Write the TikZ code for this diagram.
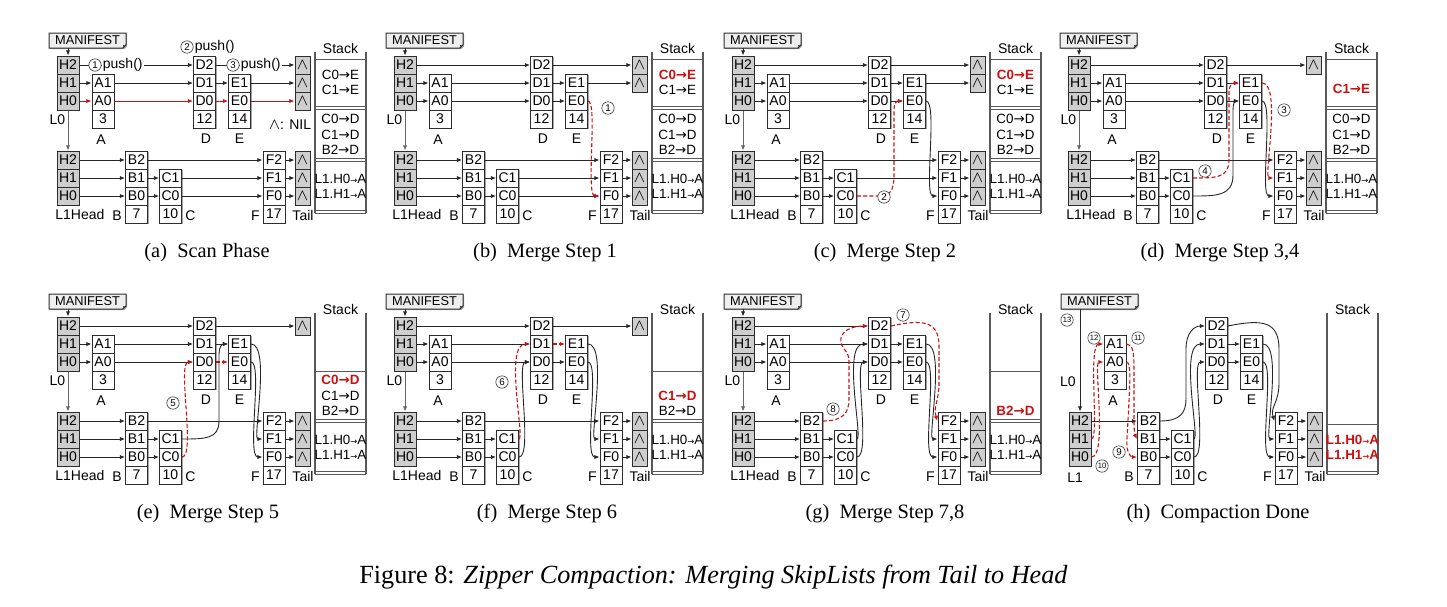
\documentclass[tikz,border=0pt]{standalone}
\usepackage{fontspec}
\setmainfont{Liberation Serif}
\newfontfamily\diagfont{Liberation Sans}
\newfontfamily\symf{DejaVu Sans}
\usetikzlibrary{arrows.meta,positioning,shadows}
\definecolor{zipred}{RGB}{204,16,16}
\definecolor{headgray}{RGB}{206,206,206}
\definecolor{mangray}{RGB}{238,238,238}
\definecolor{celldraw}{RGB}{45,45,45}
\newcommand{\cellfont}{\diagfont\fontsize{7}{8}\selectfont}
\newcommand{\manfont}{\diagfont\fontsize{6.4}{7}\selectfont}
\newcommand{\stackfont}{\diagfont\fontsize{6.7}{7.5}\selectfont}
\newcommand{\stepfont}{\diagfont\fontsize{4.9}{4.9}\selectfont}
\newcommand{\stepfontsm}{\diagfont\fontsize{3.8}{3.8}\selectfont}
\newcommand{\zar}{{\symf →}}
\newcommand{\zsar}{{\symf\fontsize{4.2}{4.2}\selectfont →}}
\newcommand{\nilmark}{{\fontsize{8}{8}\selectfont$\wedge$}}
\tikzset{
  cell/.style={draw=celldraw,line width=0.5pt,fill=white,minimum width=11pt,
    minimum height=9pt,inner sep=0pt,font=\cellfont,
    drop shadow={shadow xshift=0.6pt,shadow yshift=-0.6pt,fill=black!50,opacity=0.7}},
  headcell/.style={cell,fill=headgray},
  nilbox/.style={headcell,minimum width=7.5pt},
  manbox/.style={draw=celldraw,line width=0.5pt,fill=mangray,
    drop shadow={shadow xshift=0.6pt,shadow yshift=-0.6pt,fill=black!50,opacity=0.7}},
  link/.style={-{Latex[length=2.6pt,width=2.2pt]},line width=0.45pt,draw=black!85},
  downlink/.style={link,draw=black!60},
  hotlink/.style={link,draw=zipred},
  redstep/.style={link,draw=zipred,line width=0.55pt,dash pattern=on 2pt off 1.1pt},
  stepno/.style={circle,draw=black!80,line width=0.3pt,inner sep=0pt,minimum size=6.2pt,
    font=\stepfont,fill=white},
  stepnosm/.style={stepno,font=\stepfontsm},
  tag/.style={font=\cellfont,inner sep=0.5pt},
  stacktxt/.style={font=\stackfont,inner sep=0pt},
  hotstack/.style={font=\stackfont\bfseries,text=zipred,inner sep=0pt},
  wall/.style={draw=black!65,line width=0.8pt},
  shelf/.style={draw=black!65,line width=0.4pt},
  subcap/.style={font=\fontsize{10.2}{12}\selectfont},
  figcap/.style={font=\fontsize{13.1}{15}\selectfont}
}
\begin{document}
\begin{tikzpicture}[x=0.5pt,y=-0.5pt]
\useasboundingbox (0,0) rectangle (1447,606);

% parts shared by every panel
\foreach \p/\dx/\dy in {a/0/0,b/337/0,c/675/0,d/1011/0,e/0/261,f/337/261,g/675/261,h/1012/261}{
  \begin{scope}[shift={(\dx,\dy)}]
    \filldraw[manbox] (49,33) -- (126,33) -- (126,45) -- (123,48) -- (49,48) -- cycle;
    \draw[line width=0.3pt,draw=celldraw] (123,48) -- (123.5,45.5) -- (126,45);
    \node[tag,font=\manfont,minimum width=38.5pt,minimum height=7.5pt,inner sep=0pt] (\p-man) at (87.5,40.5) {MANIFEST};
    % level 0 nodes
    \node[cell] (\p-A1) at (103,83) {A1};
    \node[cell] (\p-A0) at (103,101) {A0};
    \node[cell] (\p-Av) at (103,119) {3};
    \node[cell] (\p-D2) at (204.5,65) {D2};
    \node[cell] (\p-D1) at (204.5,83) {D1};
    \node[cell] (\p-D0) at (204.5,101) {D0};
    \node[cell] (\p-Dv) at (204.5,119) {12};
    \node[cell] (\p-E1) at (239.5,83) {E1};
    \node[cell] (\p-E0) at (239.5,101) {E0};
    \node[cell] (\p-Ev) at (239.5,119) {14};
    \node[tag] (\p-lA) at (101,140) {A};
    \node[tag] (\p-lD) at (206,139) {D};
    \node[tag] (\p-lE) at (239.5,139) {E};
    % level 1 nodes
    \node[headcell] (\p-K2) at (68,160) {H2};
    \node[headcell] (\p-K1) at (68,178) {H1};
    \node[headcell] (\p-K0) at (68,196) {H0};
    \node[cell] (\p-B2) at (136.5,160) {B2};
    \node[cell] (\p-B1) at (136.5,178) {B1};
    \node[cell] (\p-B0) at (136.5,196) {B0};
    \node[cell] (\p-Bv) at (136.5,214) {7};
    \node[cell] (\p-C1) at (170.5,178) {C1};
    \node[cell] (\p-C0) at (170.5,196) {C0};
    \node[cell] (\p-Cv) at (170.5,214) {10};
    \node[cell] (\p-F2) at (274,160) {F2};
    \node[cell] (\p-F1) at (274,178) {F1};
    \node[cell] (\p-F0) at (274,196) {F0};
    \node[cell] (\p-Fv) at (274,214) {17};
    \node[nilbox] (\p-T2) at (302.5,160) {\nilmark};
    \node[nilbox] (\p-T1) at (302.5,178) {\nilmark};
    \node[nilbox] (\p-T0) at (302.5,196) {\nilmark};
    \node[tag] (\p-lB) at (117,216) {B};
    \node[tag] (\p-lC) at (190.5,216) {C};
    \node[tag] (\p-lF) at (255.5,216) {F};
    \node[tag] (\p-lT) at (303,215) {Tail};
    % stack frame
    \draw[wall] (315,52) -- (315,213) (366,52) -- (366,213);
    \draw[shelf] (315,210) -- (366,210) (315,213) -- (366,213);
    \node[tag] (\p-stk) at (340.5,48.5) {Stack};
  \end{scope}
  \draw[link] (\p-K2) -- (\p-B2);
  \draw[link] (\p-B1) -- (\p-C1);
  \draw[link] (\p-B0) -- (\p-C0);
  \draw[link] (\p-F2) -- (\p-T2);
  \draw[link] (\p-F1) -- (\p-T1);
  \draw[link] (\p-F0) -- (\p-T0);
}

% level 0 head, panels a to g
\foreach \p/\dx/\dy/\hot in {a/0/0/zipred,b/337/0/black!85,c/675/0/black!85,d/1011/0/black!85,
  e/0/261/black!85,f/337/261/black!85,g/675/261/black!85}{
  \begin{scope}[shift={(\dx,\dy)}]
    \node[headcell] (\p-H2) at (68,65) {H2};
    \node[headcell] (\p-H1) at (68,83) {H1};
    \node[headcell] (\p-H0) at (68,101) {H0};
    \node[tag,anchor=east] (\p-lL0) at (66.5,120) {L0};
    \node[tag,anchor=west] (\p-lL1) at (54,214) {L1Head};
  \end{scope}
  \draw[link] (\p-man.south -| \p-H2) -- (\p-H2);
  \draw[downlink] (\p-H0) -- (\p-K2);
  \draw[link] (\p-H1) -- (\p-A1);
  \draw[link,draw=\hot] (\p-H0) -- (\p-A0);
  \draw[link] (\p-A1) -- (\p-D1);
  \draw[link,draw=\hot] (\p-A0) -- (\p-D0);
  \draw[link] (\p-H2) -- (\p-D2);
  \draw[link] (\p-K1) -- (\p-B1);
  \draw[link] (\p-K0) -- (\p-B0);
}

% NIL boxes of level 0
\foreach \p/\dx/\dy in {a/0/0,b/337/0,c/675/0,d/1011/0,e/0/261,f/337/261}{
  \begin{scope}[shift={(\dx,\dy)}]
    \node[nilbox] (\p-N2) at (302.5,65) {\nilmark};
  \end{scope}
  \draw[link] (\p-D2) -- (\p-N2);
}
\foreach \p/\dx in {a/0,b/337,c/675}{
  \begin{scope}[shift={(\dx,0)}]
    \node[nilbox] (\p-N1) at (302.5,83) {\nilmark};
  \end{scope}
  \draw[link] (\p-E1) -- (\p-N1);
}
\node[nilbox] (a-N0) at (302.5,101) {\nilmark};
\draw[hotlink] (a-E0) -- (a-N0);

% straight links that come and go
\foreach \p in {a,b,c,d,e,f} \draw[link] (\p-B2) -- (\p-F2);
\foreach \p in {a,b,c} \draw[link] (\p-C1) -- (\p-F1);
\foreach \p in {a,b} \draw[link] (\p-C0) -- (\p-F0);
\foreach \p in {a,b,c,d,e,g,h} \draw[link] (\p-D1) -- (\p-E1);
\foreach \p in {b,c,d,f,g,h} \draw[link] (\p-D0) -- (\p-E0);
\draw[hotlink] (a-D0) -- (a-E0);
\draw[redstep] (e-D0) -- (e-E0);
\draw[redstep] (f-D1) -- (f-E1);

% stack sections
\foreach \p/\dx in {a/0,b/337,c/675,d/1011}{
  \begin{scope}[shift={(\dx,0)}]
    \draw[shelf] (315,59) -- (366,59);
    \draw[shelf] (315,106.5) -- (366,106.5) (315,109.5) -- (366,109.5);
  \end{scope}
}
\foreach \p/\dx/\dy in {a/0/0,b/337/0,c/675/0,d/1011/0,e/0/261,f/337/261,g/675/261}{
  \begin{scope}[shift={(\dx,\dy)}]
    \draw[shelf] (315,158.5) -- (366,158.5) (315,161.5) -- (366,161.5);
    \node[stacktxt] (\p-q1) at (340.5,178.5) {L1.H0\zsar A};
    \node[stacktxt] (\p-q2) at (340.5,194) {L1.H1\zsar A};
  \end{scope}
}
\foreach \p/\dx/\dy in {e/0/261,f/337/261,g/675/261}{
  \begin{scope}[shift={(\dx,\dy)}]
    \draw[shelf] (315,110.5) -- (366,110.5);
  \end{scope}
}
\foreach \p/\dx/\dy in {a/0/0,b/337/0,c/675/0,d/1011/0,e/0/261}{
  \begin{scope}[shift={(\dx,\dy)}]
    \node[stacktxt] (\p-r2) at (340.5,135) {C1\zar D};
    \node[stacktxt] (\p-r3) at (340.5,150) {B2\zar D};
  \end{scope}
}
\foreach \p/\dx in {a/0,b/337,c/675,d/1011}{
  \begin{scope}[shift={(\dx,0)}]
    \node[stacktxt] (\p-r1) at (340.5,119) {C0\zar D};
  \end{scope}
}
\foreach \p/\dx in {b/337,c/675}{
  \begin{scope}[shift={(\dx,0)}]
    \node[hotstack] (\p-e1) at (340.5,75) {C0\zar E};
    \node[stacktxt] (\p-e2) at (340.5,90) {C1\zar E};
  \end{scope}
}

% (a) scan phase
\node[stacktxt] (a-e1) at (340.5,75) {C0\zar E};
\node[stacktxt] (a-e2) at (340.5,90) {C1\zar E};
\node[tag] (a-nil) at (290,125) {\nilmark: NIL};
\node[stepno] (a-s1) at (95,65) {1};
\node[tag,fill=white,right=0pt of a-s1] (a-push1) {push()};
\node[stepno] (a-s2) at (187,47) {2};
\node[tag,right=0pt of a-s2] (a-push2) {push()};
\node[stepno] (a-s3) at (233,65) {3};
\node[tag,fill=white,right=0pt of a-s3] (a-push3) {push()};

% (b) merge step 1
\begin{scope}[shift={(337,0)}]
  \draw[redstep] (b-E0.east) .. controls +(10,0) and +(-14,0) .. (b-F0.west);
  \node[stepno] (b-s1) at (271,108) {1};
\end{scope}

% (c) merge step 2
\begin{scope}[shift={(675,0)}]
  \draw[link] (c-E0.east) .. controls +(12,0) and +(-14,0) .. (c-F0.west);
  \draw[redstep] (c-C0.east) -- (205,196) .. controls (215,196) and (219,190) .. (219,176)
    -- (219,110) .. controls (219,104) and (221,101) .. (c-E0.west);
  \node[stepno] (c-s2) at (209,197) {2};
\end{scope}

% (d) merge step 3,4
\begin{scope}[shift={(1011,0)}]
  \draw[link] (d-E0.east) .. controls +(12,0) and +(-14,0) .. (d-F0.west);
  \draw[redstep] (d-E1.east) .. controls +(20,0) and +(-10,0) .. (d-F1.west);
  \node[stepno] (d-s3) at (273,110) {3};
  \draw[link] (d-C0.east) .. controls (205,196) and (222,196) .. (222,175)
    -- (222,110) .. controls (222,104) and (224,101) .. (d-E0.west);
  \draw[redstep] (d-C1.east) .. controls (205,178) and (218,178) .. (218,160)
    -- (218,92) .. controls (218,86) and (221,83) .. (d-E1.west);
  \node[stepno] (d-s4) at (194,171) {4};
  \node[hotstack] (d-e2) at (340.5,89) {C1\zar E};
\end{scope}

% (e) merge step 5
\begin{scope}[shift={(0,261)}]
  \draw[link] (e-E1.east) .. controls +(20,0) and +(-10,0) .. (e-F1.west);
  \draw[link] (e-E0.east) .. controls +(12,0) and +(-16,0) .. (e-F0.west);
  \draw[link] (e-C1.east) .. controls (205,178) and (219,178) .. (219,160)
    -- (219,93) .. controls (219,86) and (222,83) .. (e-E1.west);
  \draw[redstep] (e-C0.east) .. controls +(14,0) and +(-16,0) .. (e-D0.west);
  \node[stepno] (e-s5) at (173,142) {5};
  \node[hotstack] (e-r1) at (340.5,119) {C0\zar D};
\end{scope}

% (f) merge step 6
\begin{scope}[shift={(337,261)}]
  \draw[link] (f-E1.east) .. controls +(20,0) and +(-10,0) .. (f-F1.west);
  \draw[link] (f-E0.east) .. controls +(12,0) and +(-16,0) .. (f-F0.west);
  \draw[link] (f-C0.east) .. controls +(14,0) and +(-14,0) .. (f-D0.west);
  \draw[redstep] (f-C1.east) .. controls +(6,0) and +(-26,0) .. (f-D1.west);
  \node[stepno] (f-s6) at (165,121) {6};
  \node[hotstack] (f-r2) at (340.5,135) {C1\zar D};
  \node[stacktxt] (f-r3) at (340.5,150) {B2\zar D};
\end{scope}

% (g) merge step 7,8
\begin{scope}[shift={(675,261)}]
  \draw[link] (g-E1.east) .. controls +(20,0) and +(-10,0) .. (g-F1.west);
  \draw[link] (g-E0.east) .. controls +(12,0) and +(-16,0) .. (g-F0.west);
  \draw[link] (g-C0.east) .. controls +(14,0) and +(-14,0) .. (g-D0.west);
  \draw[link] (g-C1.east) .. controls +(6,0) and +(-26,0) .. (g-D1.west);
  \draw[redstep] (g-D2.east) .. controls (248,58) and (264,60) .. (264,85)
    -- (264,122) .. controls (264,140) and (258,146) .. (g-F2.west);
  \node[stepno] (g-s7) at (228,54) {7};
  \draw[redstep] (g-B2.east) .. controls (168,160) and (174,152) .. (174,138)
    -- (174,100) .. controls (174,88) and (164,88) .. (166,77)
    .. controls (168,68) and (180,65) .. (g-D2.west);
  \node[stepno] (g-s8) at (158,148) {8};
  \node[hotstack] (g-r3) at (340.5,150) {B2\zar D};
\end{scope}

% (h) compaction done
\begin{scope}[shift={(1012,261)}]
  \node[tag,anchor=west] (h-lL1) at (54,217) {L1};
  \node[tag,anchor=east] (h-lL0) at (65,121) {L0};
  \node[stepnosm] (h-s13) at (55,59) {13};
  \draw[link] (h-man.south -| h-K2) -- (h-K2);
  \draw[link] (h-E1.east) .. controls +(20,0) and +(-10,0) .. (h-F1.west);
  \draw[link] (h-E0.east) .. controls +(12,0) and +(-16,0) .. (h-F0.west);
  \draw[link] (h-C0.east) .. controls +(14,0) and +(-14,0) .. (h-D0.west);
  \draw[link] (h-C1.east) .. controls +(6,0) and +(-26,0) .. (h-D1.west);
  \draw[link] (h-B2.east) .. controls (168,160) and (174,152) .. (174,138)
    -- (174,88) .. controls (174,72) and (182,65) .. (h-D2.west);
  \draw[link] (h-D2.east) .. controls (250,58) and (267,60) .. (267,88)
    -- (267,122) .. controls (267,142) and (258,146) .. (h-F2.west);
  \draw[redstep] (h-K1.east) .. controls +(8,0) and +(-16,0) .. (h-A1.west);
  \draw[redstep] (h-K0.east) .. controls +(16,0) and +(-10,0) .. (h-A0.west);
  \draw[redstep] (h-A1.east) .. controls (121,83) and (122,92) .. (122,108)
    -- (122,160) .. controls (122,170) and (123,174) .. (h-B1.west);
  \draw[redstep] (h-A0.east) .. controls (119,101) and (118,120) .. (117,140)
    -- (115,178) .. controls (114,190) and (118,196) .. (h-B0.west);
  \node[stepnosm] (h-s12) at (82,77) {12};
  \node[stepnosm] (h-s11) at (126,77) {11};
  \node[stepnosm] (h-s10) at (90,205) {10};
  \node[stepno] (h-s9) at (107,191) {9};
  \draw[shelf] (315,163) -- (366,163);
  \node[hotstack] (h-q1) at (340.5,178.5) {L1.H0\zsar A};
  \node[hotstack] (h-q2) at (340.5,194) {L1.H1\zsar A};
\end{scope}

% captions
\node[subcap] (cap-a) at (207,253) {(a)\ \ Scan Phase};
\node[subcap] (cap-b) at (545,253) {(b)\ \ Merge Step 1};
\node[subcap] (cap-c) at (885,253) {(c)\ \ Merge Step 2};
\node[subcap] (cap-d) at (1220,253) {(d)\ \ Merge Step 3,4};
\node[subcap] (cap-e) at (208,514) {(e)\ \ Merge Step 5};
\node[subcap] (cap-f) at (547,514) {(f)\ \ Merge Step 6};
\node[subcap] (cap-g) at (885,514) {(g)\ \ Merge Step 7,8};
\node[subcap] (cap-h) at (1218,514) {(h)\ \ Compaction Done};
\node[figcap] (cap-fig) at (713.5,577) {Figure 8: \textit{Zipper Compaction: Merging SkipLists from Tail to Head}};
\end{tikzpicture}
\end{document}
